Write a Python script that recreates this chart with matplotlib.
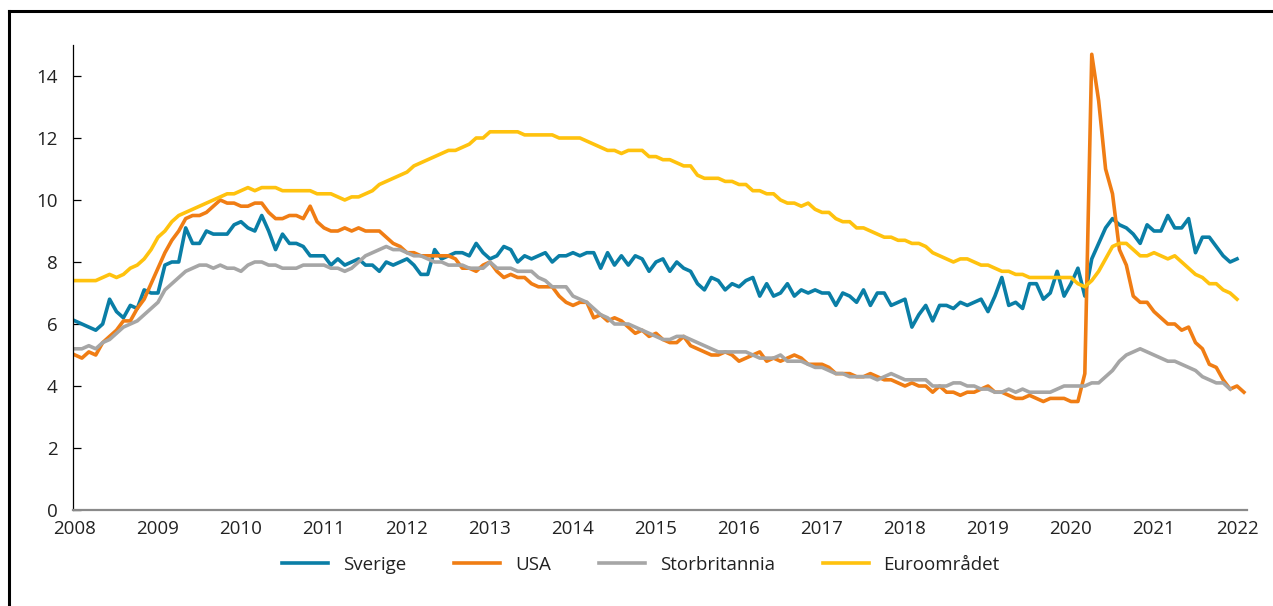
import matplotlib
matplotlib.use("Agg")
import matplotlib.pyplot as plt
import numpy as np
from matplotlib.lines import Line2D

plt.rcParams['font.family'] = ['Open Sans', 'DejaVu Sans']

# arbeidsledighet, prosent, månedlig fra jan 2008
sverige = [
    6.1, 6.0, 5.9, 5.8, 6.0, 6.8, 6.4, 6.2, 6.6, 6.5, 7.1, 7.0,
    7.0, 7.9, 8.0, 8.0, 9.1, 8.6, 8.6, 9.0, 8.9, 8.9, 8.9, 9.2,
    9.3, 9.1, 9.0, 9.5, 9.0, 8.4, 8.9, 8.6, 8.6, 8.5, 8.2, 8.2,
    8.2, 7.9, 8.1, 7.9, 8.0, 8.1, 7.9, 7.9, 7.7, 8.0, 7.9, 8.0,
    8.1, 7.9, 7.6, 7.6, 8.4, 8.1, 8.2, 8.3, 8.3, 8.2, 8.6, 8.3,
    8.1, 8.2, 8.5, 8.4, 8.0, 8.2, 8.1, 8.2, 8.3, 8.0, 8.2, 8.2,
    8.3, 8.2, 8.3, 8.3, 7.8, 8.3, 7.9, 8.2, 7.9, 8.2, 8.1, 7.7,
    8.0, 8.1, 7.7, 8.0, 7.8, 7.7, 7.3, 7.1, 7.5, 7.4, 7.1, 7.3,
    7.2, 7.4, 7.5, 6.9, 7.3, 6.9, 7.0, 7.3, 6.9, 7.1, 7.0, 7.1,
    7.0, 7.0, 6.6, 7.0, 6.9, 6.7, 7.1, 6.6, 7.0, 7.0, 6.6, 6.7,
    6.8, 5.9, 6.3, 6.6, 6.1, 6.6, 6.6, 6.5, 6.7, 6.6, 6.7, 6.8,
    6.4, 6.9, 7.5, 6.6, 6.7, 6.5, 7.3, 7.3, 6.8, 7.0, 7.7, 6.9,
    7.3, 7.8, 6.9, 8.1, 8.6, 9.1, 9.4, 9.2, 9.1, 8.9, 8.6, 9.2,
    9.0, 9.0, 9.5, 9.1, 9.1, 9.4, 8.3, 8.8, 8.8, 8.5, 8.2, 8.0,
    8.1,
]

usa = [
    5.0, 4.9, 5.1, 5.0, 5.4, 5.6, 5.8, 6.1, 6.1, 6.5, 6.8, 7.3,
    7.8, 8.3, 8.7, 9.0, 9.4, 9.5, 9.5, 9.6, 9.8, 10.0, 9.9, 9.9,
    9.8, 9.8, 9.9, 9.9, 9.6, 9.4, 9.4, 9.5, 9.5, 9.4, 9.8, 9.3,
    9.1, 9.0, 9.0, 9.1, 9.0, 9.1, 9.0, 9.0, 9.0, 8.8, 8.6, 8.5,
    8.3, 8.3, 8.2, 8.2, 8.2, 8.2, 8.2, 8.1, 7.8, 7.8, 7.7, 7.9,
    8.0, 7.7, 7.5, 7.6, 7.5, 7.5, 7.3, 7.2, 7.2, 7.2, 6.9, 6.7,
    6.6, 6.7, 6.7, 6.2, 6.3, 6.1, 6.2, 6.1, 5.9, 5.7, 5.8, 5.6,
    5.7, 5.5, 5.4, 5.4, 5.6, 5.3, 5.2, 5.1, 5.0, 5.0, 5.1, 5.0,
    4.8, 4.9, 5.0, 5.1, 4.8, 4.9, 4.8, 4.9, 5.0, 4.9, 4.7, 4.7,
    4.7, 4.6, 4.4, 4.4, 4.4, 4.3, 4.3, 4.4, 4.3, 4.2, 4.2, 4.1,
    4.0, 4.1, 4.0, 4.0, 3.8, 4.0, 3.8, 3.8, 3.7, 3.8, 3.8, 3.9,
    4.0, 3.8, 3.8, 3.7, 3.6, 3.6, 3.7, 3.6, 3.5, 3.6, 3.6, 3.6,
    3.5, 3.5, 4.4, 14.7, 13.2, 11.0, 10.2, 8.4, 7.9, 6.9, 6.7, 6.7,
    6.4, 6.2, 6.0, 6.0, 5.8, 5.9, 5.4, 5.2, 4.7, 4.6, 4.2, 3.9,
    4.0, 3.8,
]

storbritannia = [
    5.2, 5.2, 5.3, 5.2, 5.4, 5.5, 5.7, 5.9, 6.0, 6.1, 6.3, 6.5,
    6.7, 7.1, 7.3, 7.5, 7.7, 7.8, 7.9, 7.9, 7.8, 7.9, 7.8, 7.8,
    7.7, 7.9, 8.0, 8.0, 7.9, 7.9, 7.8, 7.8, 7.8, 7.9, 7.9, 7.9,
    7.9, 7.8, 7.8, 7.7, 7.8, 8.0, 8.2, 8.3, 8.4, 8.5, 8.4, 8.4,
    8.3, 8.2, 8.2, 8.1, 8.0, 8.0, 7.9, 7.9, 7.9, 7.8, 7.8, 7.8,
    8.0, 7.8, 7.8, 7.8, 7.7, 7.7, 7.7, 7.5, 7.4, 7.2, 7.2, 7.2,
    6.9, 6.8, 6.7, 6.5, 6.3, 6.2, 6.0, 6.0, 6.0, 5.9, 5.8, 5.7,
    5.6, 5.5, 5.5, 5.6, 5.6, 5.5, 5.4, 5.3, 5.2, 5.1, 5.1, 5.1,
    5.1, 5.1, 5.0, 4.9, 4.9, 4.9, 5.0, 4.8, 4.8, 4.8, 4.7, 4.6,
    4.6, 4.5, 4.4, 4.4, 4.3, 4.3, 4.3, 4.3, 4.2, 4.3, 4.4, 4.3,
    4.2, 4.2, 4.2, 4.2, 4.0, 4.0, 4.0, 4.1, 4.1, 4.0, 4.0, 3.9,
    3.9, 3.8, 3.8, 3.9, 3.8, 3.9, 3.8, 3.8, 3.8, 3.8, 3.9, 4.0,
    4.0, 4.0, 4.0, 4.1, 4.1, 4.3, 4.5, 4.8, 5.0, 5.1, 5.2, 5.1,
    5.0, 4.9, 4.8, 4.8, 4.7, 4.6, 4.5, 4.3, 4.2, 4.1, 4.1, 3.9,
]

euroomradet = [
    7.4, 7.4, 7.4, 7.4, 7.5, 7.6, 7.5, 7.6, 7.8, 7.9, 8.1, 8.4,
    8.8, 9.0, 9.3, 9.5, 9.6, 9.7, 9.8, 9.9, 10.0, 10.1, 10.2, 10.2,
    10.3, 10.4, 10.3, 10.4, 10.4, 10.4, 10.3, 10.3, 10.3, 10.3, 10.3, 10.2,
    10.2, 10.2, 10.1, 10.0, 10.1, 10.1, 10.2, 10.3, 10.5, 10.6, 10.7, 10.8,
    10.9, 11.1, 11.2, 11.3, 11.4, 11.5, 11.6, 11.6, 11.7, 11.8, 12.0, 12.0,
    12.2, 12.2, 12.2, 12.2, 12.2, 12.1, 12.1, 12.1, 12.1, 12.1, 12.0, 12.0,
    12.0, 12.0, 11.9, 11.8, 11.7, 11.6, 11.6, 11.5, 11.6, 11.6, 11.6, 11.4,
    11.4, 11.3, 11.3, 11.2, 11.1, 11.1, 10.8, 10.7, 10.7, 10.7, 10.6, 10.6,
    10.5, 10.5, 10.3, 10.3, 10.2, 10.2, 10.0, 9.9, 9.9, 9.8, 9.9, 9.7,
    9.6, 9.6, 9.4, 9.3, 9.3, 9.1, 9.1, 9.0, 8.9, 8.8, 8.8, 8.7,
    8.7, 8.6, 8.6, 8.5, 8.3, 8.2, 8.1, 8.0, 8.1, 8.1, 8.0, 7.9,
    7.9, 7.8, 7.7, 7.7, 7.6, 7.6, 7.5, 7.5, 7.5, 7.5, 7.5, 7.5,
    7.5, 7.3, 7.2, 7.4, 7.7, 8.1, 8.5, 8.6, 8.6, 8.4, 8.2, 8.2,
    8.3, 8.2, 8.1, 8.2, 8.0, 7.8, 7.6, 7.5, 7.3, 7.3, 7.1, 7.0,
    6.8,
]

aar = list(range(2008, 2023))

fig = plt.figure(figsize=(12.73, 6.06), dpi=100)
ax = fig.add_axes([73 / 1273, 96 / 606, 1174 / 1273, 465 / 606])

farger = ['#0a7ea6', '#f07d14', '#a6a6a6', '#ffc20e']
navn = ['Sverige', 'USA', 'Storbritannia', 'Euroområdet']
serier = [sverige, usa, storbritannia, euroomradet]

for s, c, n in zip(serier, farger, navn):
    x = 2008 + np.arange(len(s)) / 12
    ax.plot(x, s, color=c, lw=2.6, label=n, solid_joinstyle='round')

ax.set_xlim(2008 - 2 / 83, 2008 + (1247 - 75) / 83)
ax.set_ylim(0, 15)
ax.set_yticks(range(0, 15, 2))
ax.set_xticks(aar)
ax.set_xticklabels([str(a) for a in aar])

ax.spines['top'].set_visible(False)
ax.spines['right'].set_visible(False)
ax.spines['left'].set_color('black')
ax.spines['left'].set_linewidth(0.9)
ax.spines['bottom'].set_color('#8a8a8a')
ax.spines['bottom'].set_linewidth(1.6)

ax.tick_params(axis='y', direction='in', length=6, width=0.9, color='black',
               labelsize=13.5, labelcolor='#222222', pad=11)
ax.tick_params(axis='x', length=0, labelsize=13.5, labelcolor='#222222', pad=7)

fig.legend(loc='center', bbox_to_anchor=(641 / 1273, 1 - 565 / 606), ncol=4,
           frameon=False, fontsize=13.5, handlelength=2.45, handletextpad=0.8,
           columnspacing=2.55, labelcolor='#222222')

# ramme
fig.add_artist(Line2D([8.5 / 1273, 1], [1 - 10.5 / 606, 1 - 10.5 / 606],
                      color='black', lw=2.2, transform=fig.transFigure))
fig.add_artist(Line2D([8.5 / 1273, 8.5 / 1273], [0, 1 - 10.5 / 606],
                      color='black', lw=2.2, transform=fig.transFigure))

plt.savefig('out.png', dpi=100)
